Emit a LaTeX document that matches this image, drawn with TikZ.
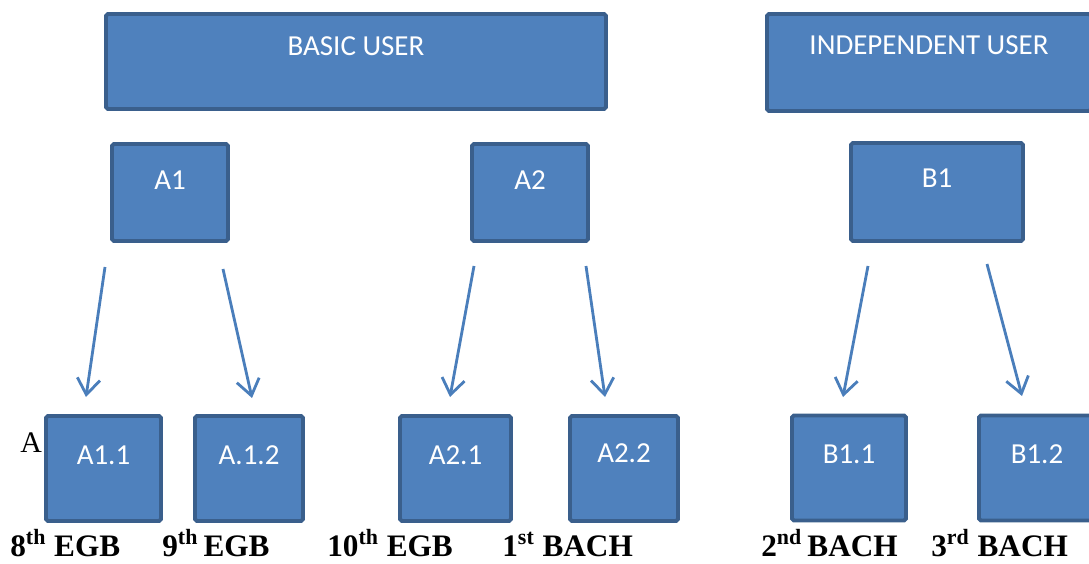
\documentclass[tikz,border=0pt]{standalone}
\usepackage{fontspec}
\setmainfont{Liberation Serif}
\newfontfamily\boxfont{Carlito}
\usetikzlibrary{arrows.meta}
\definecolor{boxblue}{HTML}{4F81BD}
\definecolor{boxedge}{HTML}{3A5F8C}
\definecolor{arrowblue}{HTML}{4A7EBB}
\tikzset{
  userbox/.style={draw=boxedge, fill=boxblue, line width=2.2pt, rounded corners=1pt, inner sep=0pt},
  boxtext/.style={text=white, font=\boxfont\fontsize{16.5}{18}\selectfont, inner sep=0pt},
  levelarrow/.style={draw=arrowblue, line width=1.6pt, -{Straight Barb[length=9pt,width=13pt]}},
  gradetext/.style={anchor=base west, font=\fontsize{17.8}{20}\selectfont\bfseries, inner sep=0pt}
}
\begin{document}
\begin{tikzpicture}[x=0.02cm,y=-0.02cm]
\useasboundingbox (0,0) rectangle (1089,564);
\node[userbox, minimum width=10cm, minimum height=1.9cm] (basic) at (356,61.5) {};
\node[boxtext] (basiclabel) at (356,46) {BASIC USER};
\node[userbox, minimum width=6.48cm, minimum height=1.94cm] (indep) at (929,62.5) {};
\node[boxtext] (indeplabel) at (929,45) {INDEPENDENT USER};
\node[userbox, minimum width=2.32cm, minimum height=1.94cm] (a1) at (170,192.5) {};
\node[boxtext] (a1label) at (170,180) {A1};
\node[userbox, minimum width=2.32cm, minimum height=1.94cm] (a2) at (530,192.5) {};
\node[boxtext] (a2label) at (530,180) {A2};
\node[userbox, minimum width=3.44cm, minimum height=1.96cm] (b1) at (937,192) {};
\node[boxtext] (b1label) at (937,178) {B1};
\node[userbox, minimum width=2.3cm, minimum height=2.1cm] (a11) at (103.5,468.5) {};
\node[boxtext] (a11label) at (103.5,455) {A1.1};
\node[userbox, minimum width=2.16cm, minimum height=2.1cm] (a12) at (249,468.5) {};
\node[boxtext] (a12label) at (249,455) {A.1.2};
\node[userbox, minimum width=2.22cm, minimum height=2.1cm] (a21) at (455.5,468.5) {};
\node[boxtext] (a21label) at (455.5,455) {A2.1};
\node[userbox, minimum width=2.16cm, minimum height=2.1cm] (a22) at (624,468.5) {};
\node[boxtext] (a22label) at (624,453) {A2.2};
\node[userbox, minimum width=2.28cm, minimum height=2.1cm] (b11) at (849,468) {};
\node[boxtext] (b11label) at (849,454) {B1.1};
\node[userbox, minimum width=2.32cm, minimum height=2.1cm] (b12) at (1037,468) {};
\node[boxtext] (b12label) at (1037,454) {B1.2};
\coordinate (a1from) at (105,267);
\coordinate (a1to) at (86,397);
\coordinate (a1bfrom) at (223,269);
\coordinate (a1bto) at (252,398);
\coordinate (a2from) at (474,266);
\coordinate (a2to) at (450,397);
\coordinate (a2bfrom) at (586,266);
\coordinate (a2bto) at (605,397);
\coordinate (b1from) at (868,266);
\coordinate (b1to) at (843,397);
\coordinate (b1bfrom) at (987,264);
\coordinate (b1bto) at (1022,396);
\draw[levelarrow] (a1from) -- (a1to);
\draw[levelarrow] (a1bfrom) -- (a1bto);
\draw[levelarrow] (a2from) -- (a2to);
\draw[levelarrow] (a2bfrom) -- (a2bto);
\draw[levelarrow] (b1from) -- (b1to);
\draw[levelarrow] (b1bfrom) -- (b1bto);
\node[anchor=base west, font=\fontsize{17}{20}\selectfont, inner sep=0pt] (mark) at (20,452) {A};
\node[gradetext] (g8) at (10,556) {8\textsuperscript{th} EGB};
\node[gradetext] (g9) at (162,556) {9\textsuperscript{th}\,EGB};
\node[gradetext] (g10) at (327,556) {10\textsuperscript{th} EGB};
\node[gradetext] (b1st) at (502,556) {1\textsuperscript{st} BACH};
\node[gradetext] (b2nd) at (761,556) {2\textsuperscript{nd}\,BACH};
\node[gradetext] (b3rd) at (931,556) {3\textsuperscript{rd} BACH};
\end{tikzpicture}
\end{document}
